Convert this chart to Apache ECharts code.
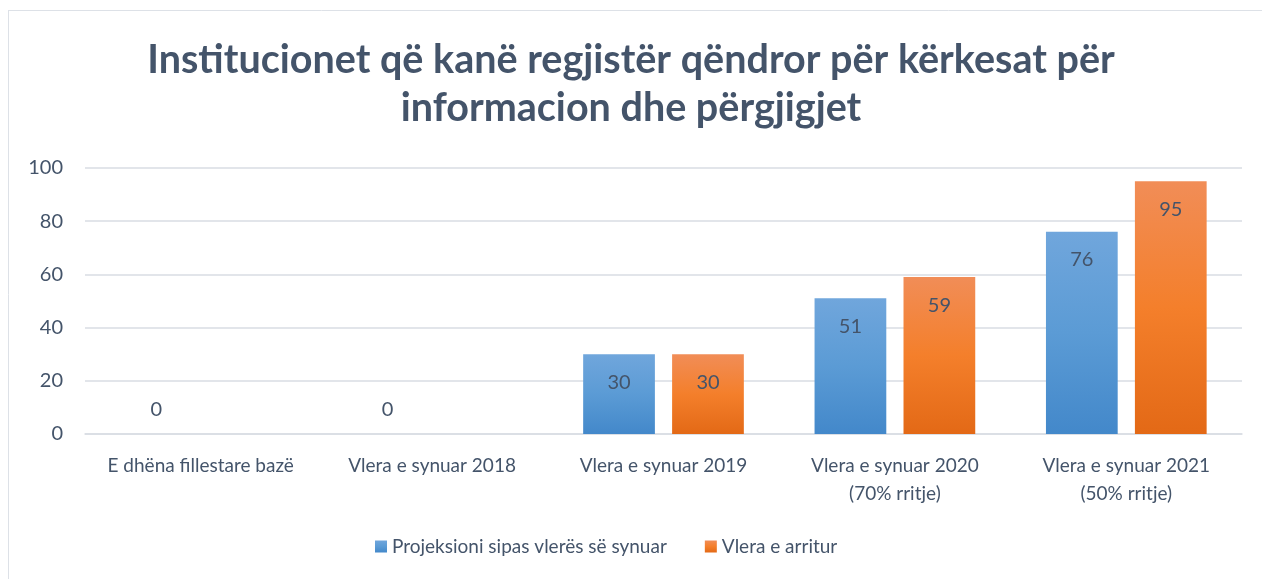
<!DOCTYPE html>
<html>
<head>
<meta charset="utf-8">
<script src="https://cdn.jsdelivr.net/npm/echarts@6/dist/echarts.min.js"></script>
<style>
html,body{margin:0;padding:0;background:#fff;}
#chart{width:1262px;height:579px;}
</style>
</head>
<body>
<div id="chart"></div>
<script>
const titleText = "Institucionet që kanë regjistër qëndror për kërkesat për\ninformacion dhe përgjigjet";
const categories = [
  "E dhëna fillestare bazë",
  "Vlera e synuar 2018",
  "Vlera e synuar 2019",
  "Vlera e synuar 2020\n(70% rritje)",
  "Vlera e synuar 2021\n(50% rritje)"
];
const seriesNames = ["Projeksioni sipas vlerës së synuar", "Vlera e arritur"];
const projected = [0, 0, 30, 51, 76];
const achieved = [null, null, 30, 59, 95];
const yTicks = [0, 20, 40, 60, 80, 100];

const textColor = '#44546A';
const font = 'Lato, "Open Sans", sans-serif';

function grad(top, mid, bottom) {
  return new echarts.graphic.LinearGradient(0, 0, 0, 1, [
    {offset: 0, color: top}, {offset: 0.5, color: mid}, {offset: 1, color: bottom}
  ]);
}
const blueGrad = grad('#70A6DC', '#5B9BD5', '#4388CA');
const orangeGrad = grad('#F18D57', '#F47F2B', '#E36916');

function toData(arr) {
  return arr.map(v => {
    if (v === null) return null;
    if (v === 0) return {value: v, label: {position: 'top', distance: 14}};
    return v;
  });
}

const labelCfg = {
  show: true,
  position: 'insideTop',
  distance: 18,
  color: textColor,
  fontFamily: font,
  fontSize: 20
};

const chart = echarts.init(document.getElementById('chart'), null, {renderer: 'canvas'});
chart.setOption({
  backgroundColor: '#fff',
  animation: false,
  textStyle: {fontFamily: font},
  title: {
    text: titleText,
    left: 'center',
    top: 31,
    textStyle: {
      color: textColor,
      fontFamily: font,
      fontWeight: 'bold',
      fontSize: 39.5,
      lineHeight: 48
    }
  },
  graphic: [
    {type: 'line', shape: {x1: 8, y1: 10.5, x2: 1262, y2: 10.5}, style: {stroke: '#DDE1E7', lineWidth: 1}},
    {type: 'line', shape: {x1: 8.5, y1: 10, x2: 8.5, y2: 579}, style: {stroke: '#DDE1E7', lineWidth: 1}}
  ],
  legend: {
    bottom: 18,
    left: 370,
    itemWidth: 12,
    itemHeight: 12,
    itemGap: 38,
    icon: 'rect',
    textStyle: {color: textColor, fontFamily: font, fontSize: 19},
    data: seriesNames
  },
  grid: {left: 85, right: 20, top: 168, bottom: 145},
  xAxis: {
    type: 'category',
    data: categories,
    axisLine: {show: true, lineStyle: {color: '#D9DDE3', width: 1.5}},
    axisTick: {show: false},
    axisLabel: {
      color: textColor,
      fontFamily: font,
      fontSize: 19,
      margin: 18,
      lineHeight: 28,
      interval: 0
    }
  },
  yAxis: {
    type: 'value',
    min: yTicks[0],
    max: yTicks[yTicks.length - 1],
    interval: 20,
    axisLine: {show: false},
    axisTick: {show: false},
    axisLabel: {color: textColor, fontFamily: font, fontSize: 20, margin: 22},
    splitLine: {lineStyle: {color: '#D9DDE3', width: 1.5}}
  },
  series: [
    {
      name: seriesNames[0],
      type: 'bar',
      data: toData(projected),
      barWidth: '31%',
      barGap: '24%',
      itemStyle: {color: blueGrad},
      label: labelCfg
    },
    {
      name: seriesNames[1],
      type: 'bar',
      data: toData(achieved),
      barWidth: '31%',
      itemStyle: {color: orangeGrad},
      label: labelCfg
    }
  ]
});
</script>
</body>
</html>
